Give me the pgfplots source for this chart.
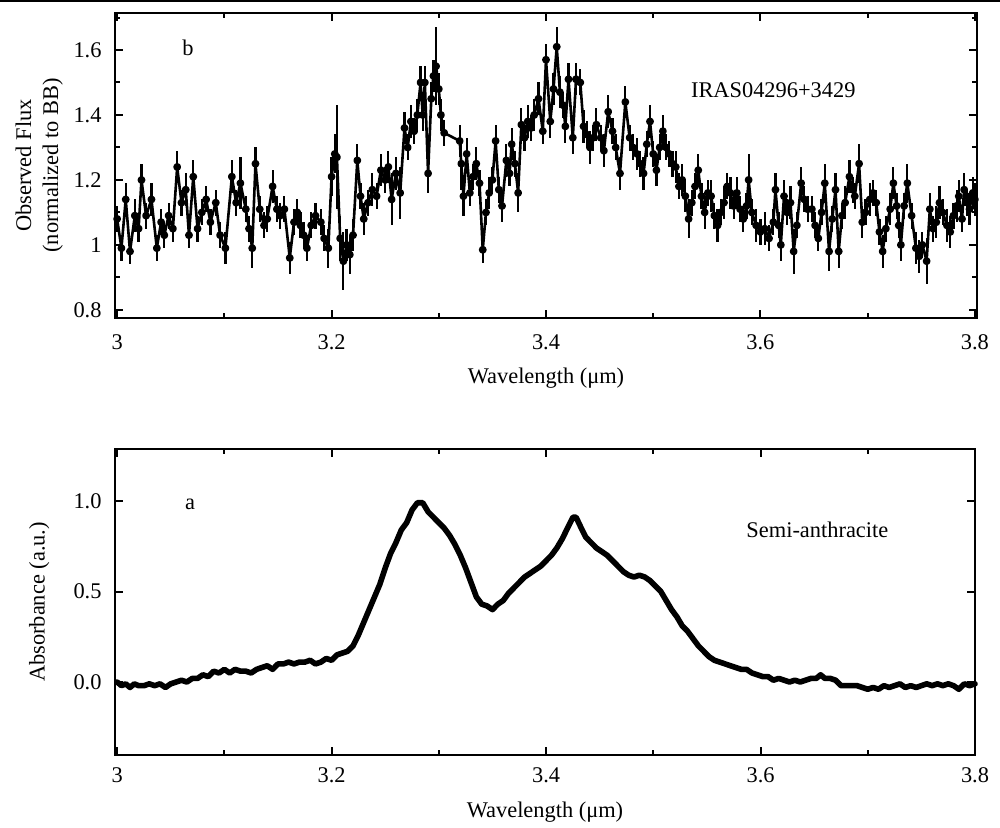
\documentclass[border=0pt]{standalone}
\usepackage{fontspec}
\setmainfont{Liberation Serif}
\usepackage{pgfplots}
\pgfplotsset{compat=1.18}
\usepackage{pgfplotstable}

\pgfplotstableread{
x y e
3.000 1.08 0.04
3.004 0.99 0.04
3.008 1.14 0.05
3.012 0.98 0.04
3.0165 1.09 0.05
3.020 1.05 0.04
3.0227 1.20 0.05
3.027 1.09 0.04
3.032 1.14 0.05
3.037 0.99 0.04
3.041 1.07 0.04
3.044 1.03 0.04
3.048 1.09 0.04
3.052 1.05 0.04
3.056 1.24 0.05
3.060 1.13 0.04
3.064 1.17 0.05
3.067 1.03 0.04
3.071 1.21 0.05
3.075 1.05 0.04
3.079 1.10 0.04
3.083 1.14 0.04
3.087 1.07 0.04
3.092 1.13 0.04
3.096 1.03 0.04
3.101 0.99 0.05
3.107 1.21 0.05
3.111 1.13 0.04
3.115 1.19 0.08
3.120 1.11 0.04
3.123 1.05 0.04
3.126 0.99 0.06
3.129 1.25 0.05
3.133 1.11 0.04
3.137 1.06 0.04
3.140 1.08 0.04
3.145 1.18 0.05
3.149 1.11 0.04
3.152 1.09 0.04
3.156 1.11 0.04
3.161 0.96 0.05
3.165 1.07 0.04
3.168 1.10 0.04
3.171 1.06 0.04
3.174 1.03 0.04
3.177 0.99 0.04
3.181 1.06 0.04
3.185 1.09 0.04
3.190 1.07 0.04
3.193 1.02 0.04
3.197 0.99 0.06
3.200 1.21 0.06
3.203 1.28 0.06
3.205 1.27 0.16
3.208 1.02 0.07
3.211 0.95 0.09
3.214 1.00 0.05
3.217 0.97 0.06
3.220 1.03 0.05
3.224 1.26 0.05
3.227 1.15 0.04
3.230 1.08 0.05
3.234 1.13 0.04
3.238 1.17 0.05
3.242 1.15 0.04
3.246 1.23 0.05
3.250 1.20 0.04
3.253 1.24 0.05
3.256 1.14 0.08
3.260 1.22 0.05
3.264 1.16 0.08
3.268 1.36 0.05
3.271 1.30 0.04
3.274 1.38 0.05
3.277 1.35 0.04
3.280 1.40 0.05
3.283 1.50 0.05
3.285 1.40 0.05
3.287 1.50 0.05
3.290 1.22 0.06
3.293 1.45 0.05
3.295 1.52 0.05
3.2975 1.55 0.12
3.300 1.48 0.05
3.302 1.40 0.05
3.305 1.345 0.04
3.3195 1.32 0.05
3.321 1.25 0.08
3.323 1.15 0.06
3.326 1.28 0.05
3.329 1.16 0.04
3.332 1.21 0.04
3.335 1.25 0.05
3.338 1.19 0.04
3.341 0.985 0.04
3.344 1.10 0.04
3.347 1.16 0.05
3.350 1.20 0.04
3.353 1.32 0.05
3.356 1.17 0.04
3.359 1.12 0.05
3.363 1.26 0.05
3.366 1.22 0.04
3.368 1.31 0.05
3.371 1.25 0.04
3.374 1.16 0.06
3.377 1.37 0.05
3.380 1.33 0.04
3.383 1.38 0.05
3.386 1.36 0.04
3.389 1.40 0.05
3.393 1.45 0.05
3.397 1.35 0.04
3.400 1.57 0.05
3.404 1.38 0.05
3.407 1.48 0.05
3.410 1.61 0.06
3.413 1.47 0.05
3.416 1.43 0.04
3.418 1.365 0.05
3.421 1.51 0.05
3.425 1.33 0.05
3.428 1.51 0.05
3.432 1.50 0.04
3.435 1.365 0.05
3.438 1.34 0.04
3.441 1.30 0.05
3.444 1.33 0.04
3.447 1.37 0.05
3.451 1.33 0.04
3.454 1.29 0.05
3.458 1.41 0.05
3.462 1.35 0.04
3.465 1.30 0.04
3.469 1.22 0.05
3.474 1.44 0.05
3.478 1.33 0.04
3.481 1.30 0.04
3.485 1.28 0.05
3.488 1.25 0.04
3.491 1.22 0.05
3.494 1.31 0.04
3.497 1.38 0.05
3.500 1.28 0.04
3.503 1.23 0.05
3.506 1.30 0.04
3.509 1.35 0.05
3.512 1.30 0.04
3.515 1.28 0.04
3.518 1.25 0.04
3.521 1.24 0.05
3.524 1.18 0.04
3.527 1.20 0.05
3.530 1.15 0.05
3.533 1.08 0.06
3.536 1.13 0.04
3.539 1.18 0.04
3.542 1.23 0.05
3.545 1.15 0.04
3.548 1.10 0.05
3.551 1.16 0.04
3.554 1.15 0.05
3.557 1.09 0.04
3.560 1.06 0.05
3.563 1.10 0.04
3.566 1.13 0.05
3.569 1.18 0.04
3.572 1.16 0.05
3.575 1.12 0.04
3.578 1.16 0.05
3.581 1.11 0.04
3.584 1.08 0.04
3.587 1.12 0.04
3.589 1.20 0.08
3.592 1.10 0.04
3.596 1.06 0.05
3.600 1.04 0.04
3.604 1.05 0.05
3.608 1.02 0.04
3.612 1.07 0.04
3.614 1.17 0.05
3.617 1.06 0.04
3.619 1.00 0.05
3.622 1.15 0.05
3.625 1.10 0.04
3.628 1.13 0.05
3.631 0.98 0.07
3.634 1.06 0.04
3.638 1.19 0.05
3.641 1.14 0.04
3.644 1.11 0.04
3.648 1.11 0.04
3.651 1.06 0.04
3.654 1.02 0.04
3.657 1.10 0.04
3.660 1.19 0.06
3.664 0.98 0.06
3.667 1.08 0.04
3.670 1.17 0.05
3.673 0.98 0.05
3.676 1.09 0.04
3.679 1.13 0.05
3.683 1.21 0.05
3.686 1.17 0.04
3.688 1.15 0.04
3.692 1.25 0.06
3.695 1.07 0.05
3.698 1.10 0.04
3.702 1.14 0.05
3.705 1.16 0.04
3.708 1.13 0.04
3.711 1.04 0.04
3.714 0.98 0.05
3.717 1.05 0.04
3.721 1.11 0.05
3.724 1.19 0.05
3.727 1.12 0.04
3.729 1.06 0.04
3.731 1.00 0.05
3.734 1.12 0.04
3.737 1.19 0.06
3.741 1.09 0.04
3.745 0.99 0.05
3.748 0.965 0.05
3.751 1.00 0.04
3.755 0.95 0.07
3.758 1.11 0.05
3.761 1.05 0.04
3.764 1.07 0.05
3.767 1.13 0.05
3.770 1.10 0.04
3.774 1.06 0.05
3.777 1.04 0.05
3.780 1.09 0.04
3.783 1.12 0.05
3.785 1.15 0.05
3.788 1.08 0.04
3.790 1.17 0.05
3.793 1.13 0.04
3.795 1.11 0.05
3.798 1.16 0.05
3.800 1.14 0.05
}\obsdata

\pgfplotstableread{
x y
3.000 0.00
3.004 -0.02
3.008 -0.01
3.012 -0.03
3.016 -0.01
3.020 -0.02
3.025 -0.02
3.030 -0.01
3.035 -0.02
3.040 -0.01
3.045 -0.03
3.050 -0.01
3.055 0.00
3.060 0.01
3.065 0.00
3.070 0.02
3.075 0.02
3.080 0.04
3.085 0.03
3.090 0.06
3.095 0.05
3.100 0.07
3.105 0.05
3.110 0.07
3.115 0.06
3.120 0.06
3.125 0.05
3.130 0.07
3.135 0.08
3.140 0.09
3.145 0.07
3.150 0.10
3.155 0.10
3.160 0.11
3.165 0.10
3.170 0.11
3.175 0.11
3.180 0.12
3.185 0.10
3.190 0.11
3.195 0.13
3.200 0.12
3.205 0.15
3.210 0.16
3.215 0.17
3.220 0.20
3.225 0.26
3.230 0.33
3.235 0.40
3.240 0.47
3.245 0.54
3.250 0.63
3.255 0.71
3.260 0.77
3.265 0.84
3.270 0.88
3.275 0.95
3.280 0.99
3.285 0.99
3.290 0.94
3.295 0.91
3.300 0.88
3.305 0.85
3.310 0.81
3.315 0.76
3.320 0.70
3.325 0.63
3.330 0.55
3.335 0.47
3.340 0.43
3.345 0.42
3.350 0.40
3.355 0.43
3.360 0.45
3.365 0.49
3.370 0.52
3.375 0.55
3.380 0.58
3.385 0.60
3.390 0.62
3.395 0.64
3.400 0.67
3.405 0.70
3.410 0.74
3.415 0.79
3.420 0.85
3.425 0.91
3.428 0.91
3.432 0.86
3.437 0.80
3.442 0.77
3.447 0.74
3.452 0.72
3.457 0.70
3.462 0.67
3.467 0.64
3.472 0.61
3.477 0.59
3.482 0.58
3.487 0.59
3.492 0.58
3.497 0.56
3.502 0.53
3.507 0.50
3.512 0.45
3.517 0.40
3.522 0.36
3.527 0.31
3.532 0.28
3.537 0.24
3.542 0.20
3.547 0.17
3.552 0.14
3.557 0.12
3.562 0.11
3.567 0.10
3.572 0.09
3.577 0.08
3.582 0.07
3.587 0.07
3.592 0.05
3.597 0.04
3.602 0.03
3.607 0.03
3.612 0.01
3.617 0.02
3.622 0.01
3.627 0.00
3.632 0.01
3.637 0.00
3.642 0.01
3.647 0.02
3.652 0.02
3.656 0.04
3.660 0.02
3.665 0.02
3.670 0.01
3.675 -0.02
3.680 -0.02
3.685 -0.02
3.690 -0.02
3.695 -0.03
3.700 -0.04
3.705 -0.03
3.710 -0.04
3.715 -0.02
3.720 -0.03
3.725 -0.02
3.730 -0.01
3.735 -0.03
3.740 -0.02
3.745 -0.03
3.750 -0.02
3.755 -0.01
3.760 -0.02
3.765 -0.01
3.770 -0.02
3.775 -0.01
3.780 -0.02
3.785 -0.04
3.790 -0.01
3.795 -0.02
3.800 -0.01
}\absdata

\pgfplotsset{
  myax/.style={
    scale only axis,
    axis line style={line width=1.2pt},
    every tick/.style={line width=1pt, black},
    major tick length=3.8pt,
    minor tick length=2.4pt,
    tick align=inside,
    xtick={3,3.2,3.4,3.6,3.8},
    minor xtick={3.1,3.3,3.5,3.7},
    /pgf/number format/assume math mode=true,
    yticklabel style={xshift=-2.8pt},
    every axis y label/.style={at={(axis description cs:-0.088,0.5)}, anchor=center, rotate=90, align=center},
    clip=false,
  }
}

\begin{document}
\fontsize{11.2}{13.5}\selectfont
\begin{tikzpicture}
\useasboundingbox (-57.5pt,-255pt) rectangle (442.5pt,159pt);
\draw[line width=1pt] (-57.5pt,158.5pt) -- (442.5pt,158.5pt);

\begin{axis}[myax,
  at={(0pt,0pt)}, anchor=south west,
  width=431pt, height=152.5pt,
  xmin=2.998, xmax=3.802, ymin=0.775, ymax=1.714,
  ytick={0.8,1,1.2,1.4,1.6},
  minor ytick={0.9,1.1,1.3,1.5,1.7},
  xticklabel style={yshift=-4.5pt},
  ylabel={Observed Flux\\(normalized to BB)},
  xlabel={Wavelength (μm)},
  every axis x label/.style={at={(axis description cs:0.5,0)}, anchor=center, yshift=-30pt},
]
\addplot[black, line width=1.3pt, line join=round, mark=*, mark size=1.3pt,
  error bars/.cd, y dir=both, y explicit, error mark=none,
  error bar style={line width=1.1pt, black}]
  table[x=x, y=y, y error=e] {\obsdata};
\node[anchor=center] at (axis cs:3.066,1.606) {b};
\node[anchor=center] at (axis cs:3.612,1.477) {IRAS04296+3429};
\end{axis}

\begin{axis}[myax,
  at={(0pt,-218.5pt)}, anchor=south west,
  width=430pt, height=153pt,
  xmin=2.998, xmax=3.800, ymin=-0.403, ymax=1.287,
  ytick={0,0.5,1},
  minor ytick={},
  yticklabel style={/pgf/number format/.cd, fixed, fixed zerofill, precision=1},
  xticklabel style={yshift=-2.5pt},
  ylabel={Absorbance (a.u.)},
  xlabel={Wavelength (μm)},
  every axis x label/.style={at={(axis description cs:0.5,0)}, anchor=center, yshift=-28.5pt},
]
\addplot[black, line width=2.8pt, line join=round, line cap=round]
  table[x=x, y=y] {\absdata};
\node[anchor=center] at (axis cs:3.068,0.983) {a};
\node[anchor=center] at (axis cs:3.653,0.84) {Semi-anthracite};
\end{axis}
\end{tikzpicture}
\end{document}
